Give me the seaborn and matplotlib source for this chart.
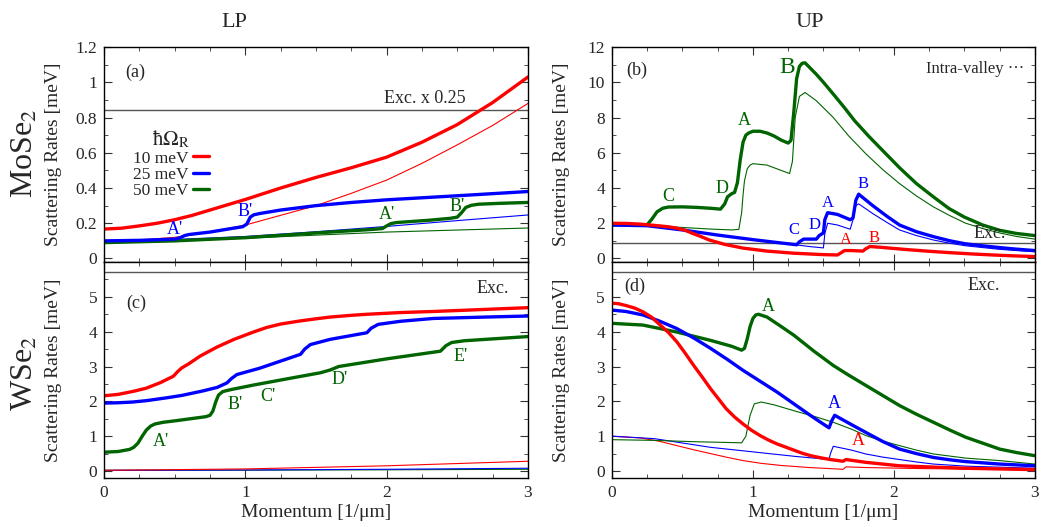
import numpy as np
import pandas as pd
import matplotlib
matplotlib.use("Agg")
import matplotlib.pyplot as plt
from matplotlib.ticker import MultipleLocator, FuncFormatter, FixedLocator
from matplotlib.lines import Line2D
import seaborn as sns

sns.set_style("ticks")
plt.rcParams["font.family"] = ["Liberation Serif", "DejaVu Serif"]
plt.rcParams["mathtext.fontset"] = "stix"

RED, BLUE, GREEN = "#ff0000", "#0000ff", "#006400"
EXC_COLOR = "#555555"

# ---------------- (a) LP, MoSe2 ----------------
a_red_x = [0, 0.125, 0.25, 0.375, 0.5, 0.625, 0.75, 0.875, 1.0, 1.25, 1.5, 1.75, 2.0, 2.25, 2.5, 2.75, 3.0]
a_red_y = [0.167, 0.172, 0.185, 0.2, 0.22, 0.245, 0.275, 0.305, 0.335, 0.40, 0.46, 0.515, 0.575, 0.66,
           0.76, 0.885, 1.03]
a_red_thin_x = [0, 0.25, 0.5, 0.75, 1.0, 1.25, 1.5, 1.75, 2.0, 2.25, 2.5, 2.75, 3.0]
a_red_thin_y = [0.10, 0.105, 0.12, 0.15, 0.19, 0.245, 0.30, 0.37, 0.445, 0.54, 0.645, 0.755, 0.88]
a_blue_x = [0, 0.25, 0.5, 0.52, 0.55, 0.57, 0.6, 0.75, 0.9, 0.98, 1.01, 1.035, 1.06, 1.1, 1.25, 1.5,
            1.75, 2.0, 2.5, 3.0]
a_blue_y = [0.10, 0.103, 0.11, 0.113, 0.122, 0.13, 0.136, 0.15, 0.17, 0.18, 0.195, 0.235, 0.248, 0.255,
            0.275, 0.30, 0.318, 0.333, 0.356, 0.38]
a_blue_thin_x = [0, 0.5, 1.0, 1.5, 2.0, 2.5, 3.0]
a_blue_thin_y = [0.10, 0.108, 0.125, 0.152, 0.182, 0.215, 0.247]
a_green_x = [0, 0.5, 1.0, 1.5, 1.9, 1.97, 2.0, 2.03, 2.07, 2.3, 2.45, 2.5, 2.53, 2.56, 2.6, 2.65, 2.8, 3.0]
a_green_y = [0.09, 0.10, 0.118, 0.145, 0.165, 0.17, 0.185, 0.198, 0.204, 0.217, 0.228, 0.235, 0.26,
             0.29, 0.302, 0.308, 0.313, 0.318]
a_green_thin_x = [0, 1.0, 2.0, 3.0]
a_green_thin_y = [0.09, 0.115, 0.15, 0.173]
a_exc = 0.845

# ---------------- (b) UP, MoSe2 ----------------
b_green_x = [0, 0.25, 0.28, 0.32, 0.36, 0.4, 0.5, 0.6, 0.7, 0.77, 0.8, 0.82, 0.85, 0.87, 0.89, 0.91,
             0.93, 0.95, 0.97, 1.0, 1.05, 1.1, 1.15, 1.2, 1.25, 1.27, 1.29, 1.31, 1.33, 1.35, 1.37, 1.45,
             1.5, 1.57, 1.65, 1.72, 1.82, 1.92, 2.04, 2.16, 2.28, 2.39, 2.5, 2.63, 2.75, 2.87, 3.0]
b_green_y = [1.9, 1.92, 2.2, 2.65, 2.85, 2.92, 2.93, 2.9, 2.85, 2.8, 3.1, 3.5, 3.68, 3.75, 4.3, 5.6,
             6.6, 7.0, 7.12, 7.22, 7.22, 7.12, 6.95, 6.72, 6.55, 6.7, 8.3, 10.2, 10.9, 11.08, 11.1, 10.45,
             10.0, 9.33, 8.55, 7.83, 6.95, 6.13, 5.15, 4.25, 3.5, 2.84, 2.35, 1.9, 1.6, 1.42, 1.3]
b_green_thin_x = [0, 0.25, 0.5, 0.7, 0.85, 0.9, 0.92, 0.93, 0.94, 0.96, 0.98, 1.0, 1.1, 1.2, 1.26, 1.28,
                  1.3, 1.33, 1.37, 1.45, 1.57, 1.68, 1.8, 1.92, 2.04, 2.16, 2.28, 2.4, 2.51, 2.63, 2.75,
                  2.87, 3.0]
b_green_thin_y = [1.9, 1.88, 1.76, 1.67, 1.62, 1.65, 2.6, 3.6, 4.4, 5.1, 5.3, 5.38, 5.3, 5.0, 4.82, 5.5,
                  8.0, 9.2, 9.42, 8.95, 8.0, 6.95, 5.95, 5.05, 4.25, 3.55, 2.93, 2.42, 2.0, 1.7, 1.45,
                  1.25, 1.1]
b_blue_x = [0, 0.25, 0.5, 0.75, 1.0, 1.2, 1.31, 1.33, 1.36, 1.45, 1.47, 1.5, 1.51, 1.53, 1.6, 1.69, 1.71,
            1.73, 1.75, 1.85, 1.95, 2.04, 2.16, 2.28, 2.4, 2.51, 2.63, 2.75, 2.87, 3.0]
b_blue_y = [1.9, 1.86, 1.62, 1.33, 1.07, 0.88, 0.78, 0.95, 1.1, 1.1, 1.3, 1.45, 2.2, 2.6, 2.5, 2.2, 2.3,
            3.3, 3.65, 3.0, 2.4, 1.9, 1.52, 1.24, 1.0, 0.83, 0.72, 0.62, 0.53, 0.45]
b_blue_thin_x = [0, 0.25, 0.5, 0.75, 1.0, 1.2, 1.31, 1.4, 1.5, 1.51, 1.53, 1.6, 1.69, 1.71, 1.73, 1.75,
                 1.85, 1.95, 2.04, 2.16, 2.28, 2.4, 2.51, 2.63, 2.75, 2.87, 3.0]
b_blue_thin_y = [1.9, 1.86, 1.62, 1.33, 1.07, 0.88, 0.77, 0.68, 0.6, 1.4, 2.0, 1.9, 1.66, 2.2, 3.0, 3.1,
                 2.55, 2.05, 1.62, 1.3, 1.05, 0.86, 0.72, 0.62, 0.52, 0.45, 0.38]
b_red_x = [0, 0.1, 0.2, 0.3, 0.4, 0.46, 0.52, 0.57, 0.63, 0.69, 0.8, 0.93, 1.1, 1.29, 1.5, 1.6, 1.62,
           1.65, 1.7, 1.78, 1.8, 1.83, 1.9, 2.0, 2.1, 2.25, 2.4, 2.55, 2.7, 2.85, 3.0]
b_red_y = [2.0, 1.99, 1.95, 1.88, 1.8, 1.72, 1.6, 1.43, 1.25, 1.05, 0.8, 0.59, 0.42, 0.3, 0.22, 0.2,
           0.3, 0.45, 0.45, 0.42, 0.55, 0.68, 0.64, 0.57, 0.5, 0.41, 0.33, 0.26, 0.2, 0.15, 0.11]
b_exc = 0.9

# ---------------- (c) LP, WSe2 ----------------
c_red_x = [0, 0.1, 0.21, 0.3, 0.4, 0.49, 0.52, 0.55, 0.6, 0.68, 0.8, 0.92, 1.05, 1.15, 1.25, 1.39, 1.5,
           1.6, 1.75, 1.86, 2.1, 2.33, 2.7, 3.0]
c_red_y = [2.16, 2.2, 2.29, 2.38, 2.54, 2.72, 2.85, 2.96, 3.08, 3.30, 3.56, 3.78, 3.98, 4.12, 4.22, 4.31,
           4.37, 4.42, 4.47, 4.5, 4.55, 4.58, 4.64, 4.69]
c_blue_x = [0, 0.1, 0.2, 0.3, 0.44, 0.55, 0.7, 0.8, 0.87, 0.9, 0.94, 1.1, 1.39, 1.42, 1.46, 1.6, 1.86,
            1.89, 1.94, 2.1, 2.33, 2.7, 3.0]
c_blue_y = [1.95, 1.96, 1.98, 2.02, 2.1, 2.17, 2.3, 2.4, 2.53, 2.65, 2.77, 2.95, 3.35, 3.5, 3.63, 3.78,
            3.97, 4.1, 4.21, 4.3, 4.38, 4.42, 4.45]
c_green_x = [0, 0.1, 0.18, 0.21, 0.24, 0.27, 0.3, 0.33, 0.36, 0.42, 0.5, 0.72, 0.75, 0.77, 0.79, 0.81,
             0.84, 0.9, 0.95, 1.06, 1.3, 1.53, 1.6, 1.66, 2.0, 2.38, 2.42, 2.46, 2.55, 3.0]
c_green_y = [0.54, 0.56, 0.62, 0.68, 0.8, 1.0, 1.18, 1.29, 1.35, 1.4, 1.44, 1.56, 1.6, 1.72, 1.98, 2.18,
             2.28, 2.34, 2.38, 2.47, 2.65, 2.82, 2.9, 3.0, 3.22, 3.44, 3.6, 3.69, 3.74, 3.86]
c_thin_x = [0, 1.0, 2.0, 3.0]
c_red_thin_y = [0.02, 0.06, 0.15, 0.28]
c_blue_thin_y = [0.02, 0.03, 0.05, 0.08]
c_green_thin_y = [0.02, 0.025, 0.035, 0.05]
c_exc = 5.7

# ---------------- (d) UP, WSe2 ----------------
d_red_x = [0, 0.05, 0.1, 0.16, 0.22, 0.28, 0.34, 0.4, 0.46, 0.52, 0.58, 0.64, 0.70, 0.76, 0.81, 0.87,
           0.93, 0.99, 1.05, 1.11, 1.17, 1.23, 1.29, 1.35, 1.41, 1.48, 1.55, 1.64, 1.66, 1.8, 2.04, 2.5, 3.0]
d_red_y = [4.82, 4.8, 4.75, 4.68, 4.57, 4.42, 4.2, 3.98, 3.71, 3.38, 3.03, 2.7, 2.36, 2.05, 1.79, 1.55,
           1.35, 1.17, 1.02, 0.89, 0.78, 0.69, 0.6, 0.51, 0.44, 0.38, 0.33, 0.28, 0.33, 0.25, 0.15, 0.08, 0.04]
d_blue_x = [0, 0.1, 0.22, 0.34, 0.46, 0.58, 0.70, 0.82, 0.93, 1.05, 1.17, 1.29, 1.41, 1.48, 1.54, 1.56,
            1.58, 1.7, 1.8, 1.92, 2.04, 2.16, 2.28, 2.4, 2.51, 2.75, 3.0]
d_blue_y = [4.62, 4.58, 4.48, 4.3, 4.09, 3.82, 3.52, 3.2, 2.89, 2.58, 2.27, 1.93, 1.59, 1.4, 1.24, 1.45,
            1.6, 1.33, 1.11, 0.85, 0.63, 0.5, 0.39, 0.32, 0.27, 0.2, 0.15]
d_green_x = [0, 0.22, 0.46, 0.70, 0.85, 0.92, 0.94, 0.96, 0.98, 1.0, 1.02, 1.04, 1.1, 1.2, 1.29, 1.43,
             1.57, 1.68, 1.8, 1.92, 2.04, 2.16, 2.28, 2.4, 2.51, 2.63, 2.75, 2.87, 3.0]
d_green_y = [4.24, 4.19, 3.99, 3.75, 3.58, 3.47, 3.52, 3.8, 4.15, 4.38, 4.48, 4.5, 4.42, 4.15, 3.9, 3.45,
             3.03, 2.75, 2.46, 2.17, 1.88, 1.63, 1.4, 1.17, 0.97, 0.8, 0.63, 0.53, 0.44]
d_green_thin_x = [0, 0.3, 0.6, 0.92, 0.95, 0.98, 1.01, 1.06, 1.15, 1.3, 1.45, 1.57, 1.7, 1.8, 1.92, 2.04,
                  2.16, 2.28, 2.51, 2.75, 3.0]
d_green_thin_y = [0.9, 0.88, 0.84, 0.81, 1.0, 1.6, 1.93, 1.98, 1.9, 1.72, 1.55, 1.4, 1.2, 1.02, 0.86,
                  0.73, 0.6, 0.49, 0.37, 0.3, 0.2]
d_blue_thin_x = [0, 0.3, 0.7, 1.0, 1.3, 1.54, 1.55, 1.57, 1.7, 1.8, 1.92, 2.04, 2.16, 2.28, 2.51, 3.0]
d_blue_thin_y = [1.0, 0.93, 0.68, 0.55, 0.42, 0.33, 0.5, 0.71, 0.6, 0.49, 0.4, 0.33, 0.26, 0.2, 0.14, 0.08]
d_red_thin_x = [0, 0.2, 0.33, 0.46, 0.58, 0.7, 0.82, 0.93, 1.06, 1.2, 1.4, 1.64, 1.66, 1.8, 2.2, 3.0]
d_red_thin_y = [1.0, 0.95, 0.86, 0.73, 0.61, 0.5, 0.39, 0.3, 0.22, 0.16, 0.1, 0.05, 0.12, 0.1, 0.07, 0.04]
d_exc = 5.7

legend_labels = ["10 meV", "25 meV", "50 meV"]
ticks_a = [0, 0.2, 0.4, 0.6, 0.8, 1.0, 1.2]
ticks_b = [0, 2, 4, 6, 8, 10, 12]
ticks_cd = [0, 1, 2, 3, 4, 5]

THICK, THIN = 2.4, 0.8

fig = plt.figure(figsize=(10.52, 5.27), dpi=100)
ax_a = fig.add_axes([0.0989, 0.5028, 0.403, 0.408])
ax_b = fig.add_axes([0.5817, 0.5028, 0.402, 0.408])
ax_c = fig.add_axes([0.0989, 0.093, 0.403, 0.4098])
ax_d = fig.add_axes([0.5817, 0.093, 0.402, 0.4098])


def curve(ax, x, y, color, lw):
    sns.lineplot(x=x, y=y, ax=ax, color=color, linewidth=lw, sort=False,
                 estimator=None, legend=False)


def style(ax, ylim, ticks, minor, ylabel, bottom_labels):
    ax.set_xlim(0, 3)
    ax.set_ylim(*ylim)
    ax.xaxis.set_major_locator(MultipleLocator(1))
    ax.xaxis.set_minor_locator(MultipleLocator(0.25))
    ax.yaxis.set_major_locator(FixedLocator(ticks))
    ax.yaxis.set_minor_locator(MultipleLocator(minor))
    ax.yaxis.set_major_formatter(FuncFormatter(lambda v, p: f"{v:g}"))
    ax.xaxis.set_major_formatter(FuncFormatter(lambda v, p: f"{v:g}"))
    ax.tick_params(which="both", direction="in", top=True, right=True,
                   labelsize=12.5, color="#333333", pad=5)
    ax.tick_params(which="major", length=6, width=0.8)
    ax.tick_params(which="minor", length=3, width=0.6)
    ax.tick_params(labelbottom=bottom_labels)
    for s in ax.spines.values():
        s.set_linewidth(1.0)
        s.set_color("black")
    ax.set_ylabel(ylabel, fontsize=14)
    ax.yaxis.set_label_coords(-0.1, 0.5)
    if bottom_labels:
        ax.set_xlabel("Momentum [1/\u03bcm]", fontsize=14, labelpad=2)
    else:
        ax.set_xlabel("")


ylab = "Scattering Rates [meV]"

# (a)
ax_a.axhline(a_exc, color=EXC_COLOR, lw=1.0)
curve(ax_a, a_green_thin_x, a_green_thin_y, GREEN, THIN)
curve(ax_a, a_blue_thin_x, a_blue_thin_y, BLUE, THIN)
curve(ax_a, a_red_thin_x, a_red_thin_y, RED, THIN)
curve(ax_a, a_green_x, a_green_y, GREEN, THICK)
curve(ax_a, a_blue_x, a_blue_y, BLUE, THICK)
curve(ax_a, a_red_x, a_red_y, RED, THICK)
style(ax_a, (-0.02, 1.2), ticks_a, 0.1, ylab, False)
ax_a.text(0.073, 0.88, "(a)", transform=ax_a.transAxes, fontsize=13, va="center", ha="center")
ax_a.text(2.27, a_exc + 0.015, "Exc. x 0.25", fontsize=13, ha="center", va="bottom")
ax_a.text(0.5, 0.165, "A'", color=BLUE, fontsize=13, ha="center", va="center")
ax_a.text(1.0, 0.268, "B'", color=BLUE, fontsize=13, ha="center", va="center")
ax_a.text(2.0, 0.25, "A'", color=GREEN, fontsize=13, ha="center", va="center")
ax_a.text(2.5, 0.296, "B'", color=GREEN, fontsize=13, ha="center", va="center")
handles = [Line2D([], [], color=c, lw=THICK) for c in (RED, BLUE, GREEN)]
leg = ax_a.legend(handles, legend_labels, title=r"$\mathrm{\hbar}\Omega_\mathrm{R}$", markerfirst=False,
                  frameon=False, loc="upper right", bbox_to_anchor=(0.248, 0.62),
                  fontsize=12.5, title_fontsize=15, handlelength=0.95, handletextpad=0.25,
                  labelspacing=0.0, borderpad=0, borderaxespad=0)

# (b)
ax_b.axhline(b_exc, color=EXC_COLOR, lw=1.0)
curve(ax_b, b_green_thin_x, b_green_thin_y, GREEN, THIN)
curve(ax_b, b_blue_thin_x, b_blue_thin_y, BLUE, THIN)
curve(ax_b, b_green_x, b_green_y, GREEN, THICK)
curve(ax_b, b_blue_x, b_blue_y, BLUE, THICK)
curve(ax_b, b_red_x, b_red_y, RED, THICK)
style(ax_b, (-0.2, 12), ticks_b, 1, ylab, False)
ax_b.text(0.059, 0.893, "(b)", transform=ax_b.transAxes, fontsize=13, va="center", ha="center")
ax_b.text(0.975, 0.9, "Intra-valley \u00b7\u00b7\u00b7", transform=ax_b.transAxes, fontsize=12,
          va="center", ha="right")
ax_b.text(2.68, b_exc + 0.05, "Exc.", fontsize=13, ha="center", va="bottom")
for lx, ly, t, c, fs in [(0.40, 3.5, "C", GREEN, 13), (0.78, 4.0, "D", GREEN, 13),
                         (0.94, 7.85, "A", GREEN, 13), (1.24, 10.85, "B", GREEN, 17),
                         (1.29, 1.62, "C", BLUE, 12), (1.44, 1.9, "D", BLUE, 12),
                         (1.53, 3.15, "A", BLUE, 12), (1.78, 4.2, "B", BLUE, 12),
                         (1.66, 1.05, "A", RED, 12), (1.86, 1.15, "B", RED, 12)]:
    ax_b.text(lx, ly, t, color=c, fontsize=fs, ha="center", va="center")

# (c)
ax_c.axhline(c_exc, color=EXC_COLOR, lw=1.0)
curve(ax_c, c_thin_x, c_green_thin_y, GREEN, THIN)
curve(ax_c, c_thin_x, c_blue_thin_y, BLUE, THIN)
curve(ax_c, c_thin_x, c_red_thin_y, RED, THIN)
curve(ax_c, c_green_x, c_green_y, GREEN, THICK)
curve(ax_c, c_blue_x, c_blue_y, BLUE, THICK)
curve(ax_c, c_red_x, c_red_y, RED, THICK)
style(ax_c, (-0.2, 6.0), ticks_cd, 0.5, ylab, True)
ax_c.text(0.075, 0.81, "(c)", transform=ax_c.transAxes, fontsize=13, va="center", ha="center")
ax_c.text(2.75, 5.25, "Exc.", fontsize=13, ha="center", va="center")
for lx, ly, t in [(0.40, 0.85, "A'"), (0.93, 1.91, "B'"), (1.16, 2.15, "C'"),
                  (1.67, 2.63, "D'"), (2.52, 3.3, "E'")]:
    ax_c.text(lx, ly, t, color=GREEN, fontsize=13, ha="center", va="center")

# (d)
ax_d.axhline(d_exc, color=EXC_COLOR, lw=1.0)
curve(ax_d, d_red_thin_x, d_red_thin_y, RED, THIN)
curve(ax_d, d_blue_thin_x, d_blue_thin_y, BLUE, THIN)
curve(ax_d, d_green_thin_x, d_green_thin_y, GREEN, THIN)
curve(ax_d, d_green_x, d_green_y, GREEN, THICK)
curve(ax_d, d_blue_x, d_blue_y, BLUE, THICK)
curve(ax_d, d_red_x, d_red_y, RED, THICK)
style(ax_d, (-0.2, 6.0), ticks_cd, 0.5, ylab, True)
ax_d.text(0.054, 0.886, "(d)", transform=ax_d.transAxes, fontsize=13, va="center", ha="center")
ax_d.text(2.64, 5.34, "Exc.", fontsize=13, ha="center", va="center")
ax_d.text(1.11, 4.72, "A", color=GREEN, fontsize=13, ha="center", va="center")
ax_d.text(1.58, 1.93, "A", color=BLUE, fontsize=13, ha="center", va="center")
ax_d.text(1.75, 0.87, "A", color=RED, fontsize=13, ha="center", va="center")

# Column and row headings
fig.text(0.223, 0.958, "LP", fontsize=16, ha="center", va="center")
fig.text(0.770, 0.958, "UP", fontsize=16, ha="center", va="center")
fig.text(0.024, 0.71, "MoSe$_2$", fontsize=23, rotation=90, ha="center", va="center")
fig.text(0.024, 0.292, "WSe$_2$", fontsize=23, rotation=90, ha="center", va="center")

fig.savefig("out.png", dpi=100)
